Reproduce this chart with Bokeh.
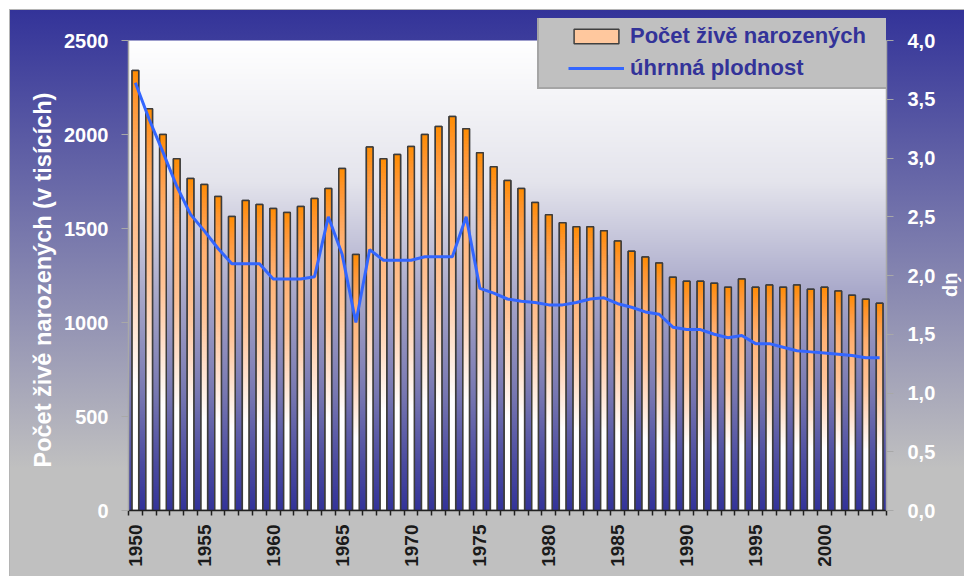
import math
import numpy as np
from bokeh.plotting import figure
from bokeh.models import Range1d, LinearAxis, FixedTicker, Legend, LegendItem, Title
from bokeh.embed import file_html
from bokeh.resources import INLINE

years = list(range(1950, 2005))
births = [2340, 2137, 2000, 1871, 1766, 1734, 1670, 1564, 1649, 1628,
          1606, 1585, 1617, 1660, 1713, 1819, 1362, 1934, 1871, 1894,
          1936, 2000, 2043, 2096, 2030, 1903, 1828, 1755, 1713, 1638,
          1573, 1530, 1509, 1509, 1488, 1433, 1379, 1348, 1316, 1241,
          1220, 1220, 1209, 1188, 1231, 1188, 1199, 1188, 1199, 1177,
          1188, 1167, 1145, 1124, 1103]
fertility = [3.64, 3.33, 3.05, 2.76, 2.52, 2.38, 2.23, 2.10, 2.10, 2.10,
             1.97, 1.97, 1.97, 1.99, 2.50, 2.18, 1.60, 2.22, 2.13, 2.13,
             2.13, 2.16, 2.16, 2.16, 2.50, 1.89, 1.85, 1.80, 1.78, 1.77,
             1.75, 1.75, 1.77, 1.80, 1.81, 1.76, 1.73, 1.69, 1.67, 1.56,
             1.54, 1.54, 1.50, 1.47, 1.49, 1.42, 1.42, 1.39, 1.36, 1.35,
             1.34, 1.33, 1.32, 1.30, 1.30]
left_ticks = [0, 500, 1000, 1500, 2000, 2500]
right_ticks = [0.0, 0.5, 1.0, 1.5, 2.0, 2.5, 3.0, 3.5, 4.0]
right_labels = ["0,0", "0,5", "1,0", "1,5", "2,0", "2,5", "3,0", "3,5", "4,0"]
year_labels = [1950, 1955, 1960, 1965, 1970, 1975, 1980, 1985, 1990, 1995, 2000]
LEFT_MAX = 2500
RIGHT_MAX = 4.0

FONT = "Liberation Sans"

# layout (pixels)
PLOT_PX = 470      # height of the plot area in the original
HEAD_PX = 22       # extra room above it so the legend is not clipped
FRAME_PX = PLOT_PX + HEAD_PX


def interp(stops, t):
    for (p0, c0), (p1, c1) in zip(stops[:-1], stops[1:]):
        if t <= p1:
            k = 0.0 if p1 == p0 else (t - p0) / (p1 - p0)
            k = min(max(k, 0.0), 1.0)
            return tuple(int(round(a + (b - a) * k)) for a, b in zip(c0, c1))
    return stops[-1][1]


def gradient_image(n, stops):
    img = np.empty((n, 1), dtype=np.uint32)
    view = img.view(dtype=np.uint8).reshape((n, 1, 4))
    for r in range(n):
        g = (r + 0.5) / n  # 0 bottom -> 1 top
        c = interp(stops, g)
        view[r, 0, 0] = c[0]
        view[r, 0, 1] = c[1]
        view[r, 0, 2] = c[2]
        view[r, 0, 3] = 255
    return img


frame_stops = [(0.0, (51, 51, 153)), (0.10, (75, 75, 160)), (0.25, (120, 120, 178)),
               (0.45, (165, 165, 200)), (0.70, (228, 228, 236)), (1.0, (255, 255, 255))]
bar_stops = [(0.0, (255, 255, 255)), (0.28, (255, 255, 255)), (0.45, (255, 222, 200)),
             (0.6, (255, 195, 150)), (0.8, (255, 175, 110)), (0.93, (255, 150, 50)),
             (1.0, (255, 140, 0))]

bg_img = gradient_image(PLOT_PX, frame_stops)
bar_img = gradient_image(120, bar_stops)

BAR_W = 0.48
x0 = years[0] - 0.5
x1 = years[-1] + 0.5

p = figure(width=964, height=576, output_backend="svg", toolbar_location=None,
           x_range=Range1d(x0, x1),
           y_range=Range1d(0, LEFT_MAX * FRAME_PX / PLOT_PX),
           min_border_left=128, min_border_right=78, min_border_top=18, min_border_bottom=66)
p.border_fill_color = None
p.background_fill_color = None
p.outline_line_color = None
p.grid.visible = False
p.styles = {
    "background-image": ("linear-gradient(to bottom, #333399 0%, #c0c0c0 81%, #c0c0c0 100%), "
                         "linear-gradient(#b4b4b4, #b4b4b4)"),
    "background-position": "10px 10px, 9px 9px",
    "background-size": "calc(100% - 10px) calc(100% - 10px), calc(100% - 9px) calc(100% - 9px)",
    "background-repeat": "no-repeat, no-repeat",
}

p.extra_y_ranges = {"up": Range1d(0, RIGHT_MAX * FRAME_PX / PLOT_PX)}

# plot-area background gradient
p.image_rgba(image=[bg_img], x=x0, y=0, dw=x1 - x0, dh=LEFT_MAX)

legend_bar = p.vbar(x=years, top=births, width=BAR_W, fill_color="#ffc89e",
                    line_color="#404040", line_width=1.5)
p.image_rgba(image=[bar_img] * len(years), x=[y - BAR_W / 2 for y in years],
             y=[0] * len(years), dw=[BAR_W] * len(years), dh=births)
p.vbar(x=years, top=births, width=BAR_W, fill_color=None,
       line_color="#3c3c3c", line_width=1.5)

line = p.line(years, fertility, y_range_name="up", line_color="#3366ff", line_width=3)

# x axis
xa = p.xaxis[0]
xa.ticker = FixedTicker(ticks=year_labels, minor_ticks=[y - 0.5 for y in years] + [x1])
xa.major_tick_out = 0
xa.major_tick_in = 0
xa.minor_tick_out = 5
xa.minor_tick_in = 0
xa.minor_tick_line_color = "#202020"
xa.minor_tick_line_width = 1.5
xa.axis_line_color = "#202020"
xa.axis_line_width = 1.5
xa.major_label_orientation = math.pi / 2
xa.major_label_standoff = 9
xa.major_label_text_font = FONT
xa.major_label_text_font_style = "bold"
xa.major_label_text_font_size = "19px"
xa.major_label_text_color = "#1a1a1a"

# left axis
ya = p.yaxis[0]
ya.ticker = FixedTicker(ticks=left_ticks)
ya.bounds = (0, LEFT_MAX)
ya.major_label_text_font = FONT
ya.major_label_text_font_style = "bold"
ya.major_label_text_font_size = "20px"
ya.major_label_text_color = "white"
ya.major_label_standoff = 13
ya.major_tick_out = 7
ya.major_tick_in = 0
ya.minor_tick_line_color = None
ya.major_tick_line_color = "#a8a8a8"
ya.axis_line_color = "#a8a8a8"
ya.axis_line_width = 1.5

left_title = Title(text="Počet živě narozených (v tisících)", align="left", offset=43,
                   vertical_align="middle", standoff=10,
                   text_font=FONT, text_font_style="bold", text_font_size="23.5px",
                   text_color="white")
p.add_layout(left_title, "left")

# right axis
ra = LinearAxis(y_range_name="up", ticker=FixedTicker(ticks=right_ticks),
                major_label_overrides={t: s for t, s in zip(right_ticks, right_labels)})
ra.bounds = (0, RIGHT_MAX)
ra.major_label_text_font = FONT
ra.major_label_text_font_style = "bold"
ra.major_label_text_font_size = "20px"
ra.major_label_text_color = "white"
ra.major_label_standoff = 14
ra.major_tick_out = 7
ra.major_tick_in = 0
ra.minor_tick_line_color = None
ra.major_tick_line_color = "#a8a8a8"
ra.axis_line_color = "#a8a8a8"
ra.axis_line_width = 1.5
p.add_layout(ra, "right")

right_title = Title(text="úp", align="left", offset=254, vertical_align="top", standoff=2,
                    text_font=FONT, text_font_style="bold", text_font_size="20px",
                    text_color="white")
p.add_layout(right_title, "right")

legend = Legend(items=[LegendItem(label="Počet živě narozených", renderers=[legend_bar]),
                       LegendItem(label="úhrnná plodnost", renderers=[line])],
                location=(409, 421))
legend.title = " "
legend.title_location = "left"
legend.title_text_font_size = "14px"
legend.title_standoff = 7
legend.label_text_font = FONT
legend.label_text_font_style = "bold"
legend.label_text_font_size = "22px"
legend.label_text_color = "#333399"
legend.label_standoff = 6
legend.label_width = 264
legend.glyph_width = 56
legend.glyph_height = 18
legend.padding = 6
legend.spacing = 6
legend.margin = 0
legend.background_fill_color = "#c0c0c0"
legend.background_fill_alpha = 1.0
legend.border_line_color = "#8a8a8a"
legend.border_line_width = 2
p.add_layout(legend, "center")

open("out.html", "w").write(file_html(p, INLINE))
